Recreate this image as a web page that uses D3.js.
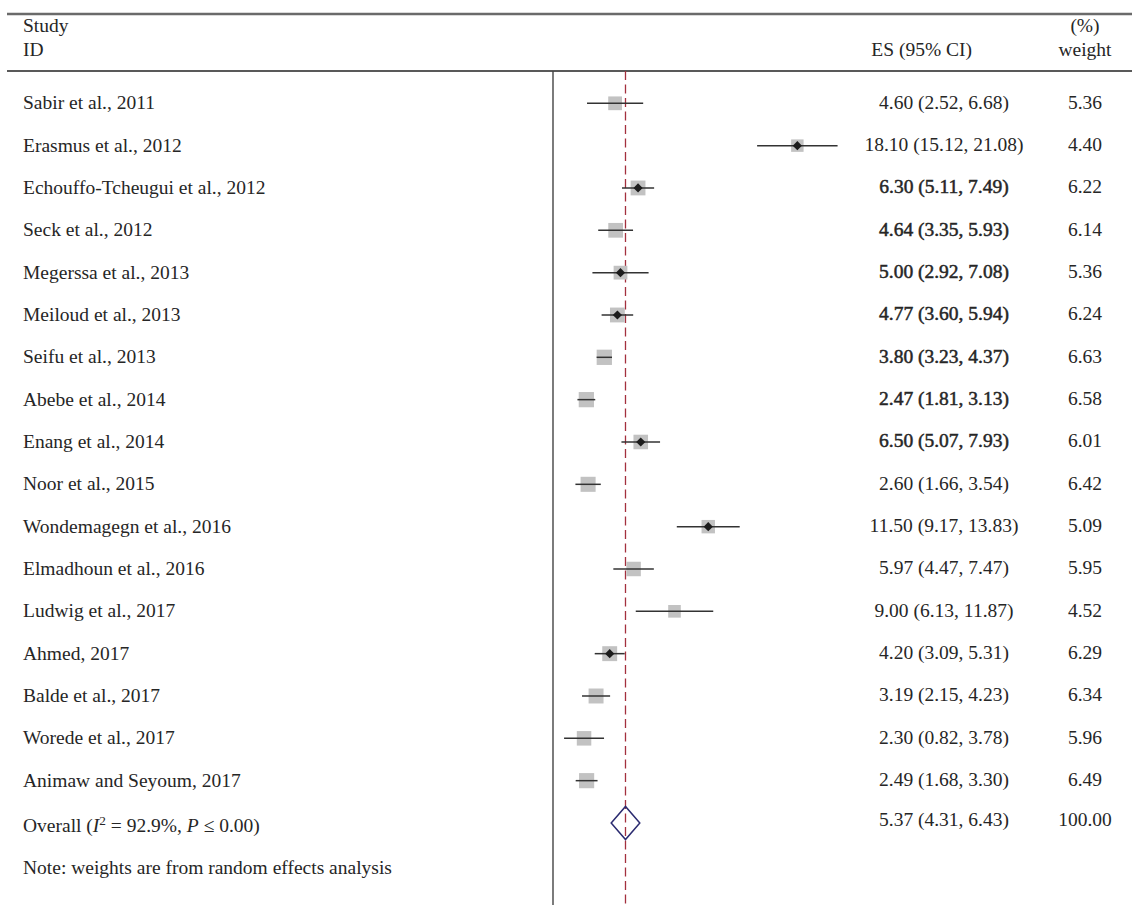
<!DOCTYPE html>
<html>
<head>
<meta charset="utf-8">
<script src="https://cdn.jsdelivr.net/npm/d3@7"></script>
<style>
  html, body { margin: 0; padding: 0; background: #fff; }
  svg text { font-family: "Liberation Serif", "DejaVu Serif", serif; fill: #262626; }
</style>
</head>
<body>
<svg id="chart" width="1132" height="905"></svg>
<script>
// Study-level estimates (prevalence, %) with 95% CI and random-effects weights
const studies = [
  "Sabir et al., 2011", "Erasmus et al., 2012", "Echouffo-Tcheugui et al., 2012",
  "Seck et al., 2012", "Megerssa et al., 2013", "Meiloud et al., 2013",
  "Seifu et al., 2013", "Abebe et al., 2014", "Enang et al., 2014",
  "Noor et al., 2015", "Wondemagegn et al., 2016", "Elmadhoun et al., 2016",
  "Ludwig et al., 2017", "Ahmed, 2017", "Balde et al., 2017",
  "Worede et al., 2017", "Animaw and Seyoum, 2017"
];
const es      = [4.60, 18.10, 6.30, 4.64, 5.00, 4.77, 3.80, 2.47, 6.50, 2.60, 11.50, 5.97, 9.00, 4.20, 3.19, 2.30, 2.49];
const lower   = [2.52, 15.12, 5.11, 3.35, 2.92, 3.60, 3.23, 1.81, 5.07, 1.66,  9.17, 4.47, 6.13, 3.09, 2.15, 0.82, 1.68];
const upper   = [6.68, 21.08, 7.49, 5.93, 7.08, 5.94, 4.37, 3.13, 7.93, 3.54, 13.83, 7.47, 11.87, 5.31, 4.23, 3.78, 3.30];
const weights = [5.36, 4.40, 6.22, 6.14, 5.36, 6.24, 6.63, 6.58, 6.01, 6.42, 5.09, 5.95, 4.52, 6.29, 6.34, 5.96, 6.49];
// rows whose point estimate marker is drawn on top of the box
const showPoint = [0, 1, 1, 0, 1, 1, 0, 0, 1, 0, 1, 0, 0, 1, 0, 0, 0];
// rows whose ES text is set heavier
const heavyText = [0, 0, 1, 1, 1, 1, 1, 1, 1, 0, 0, 0, 0, 0, 0, 0, 0];

// Pooled estimate
const overallES = 5.37, overallLo = 4.31, overallHi = 6.43, overallWeight = 100.00;
const i2 = "92.9%", pText = "0.00";

const fmt = d3.format(".2f");
const svg = d3.select("#chart");

const x = d3.scaleLinear().domain([0, 20]).range([553, 823]);
const nRows = studies.length + 1;
const y = d3.scaleLinear().domain([0, nRows - 1]).range([103.3, 823]);
const boxSide = w => 5.94 * Math.sqrt(w);

const fs = 19.5;
const labelX = 23, esX = 944, wX = 1085;
const plotTop = 71, plotBottom = 905;

// header rules
svg.append("line").attr("x1", 7).attr("x2", 1132).attr("y1", 14).attr("y2", 14)
  .attr("stroke", "#6a6a6a").attr("stroke-width", 2.5);
svg.append("line").attr("x1", 7).attr("x2", 1132).attr("y1", plotTop).attr("y2", plotTop)
  .attr("stroke", "#222").attr("stroke-width", 1.5);

// header text
const head = svg.append("g").style("font-size", fs + "px");
head.append("text").attr("x", labelX).attr("y", 32).text("Study");
head.append("text").attr("x", labelX).attr("y", 56).text("ID");
head.append("text").attr("x", 972).attr("y", 56).attr("text-anchor", "end").text("ES (95% CI)");
head.append("text").attr("x", wX).attr("y", 32).attr("text-anchor", "middle").text("(%)");
head.append("text").attr("x", wX).attr("y", 56).attr("text-anchor", "middle").text("weight");

// null line at zero and pooled-estimate line
svg.append("line").attr("x1", x(0)).attr("x2", x(0)).attr("y1", plotTop).attr("y2", plotBottom)
  .attr("stroke", "#444").attr("stroke-width", 1.4);
svg.append("line").attr("x1", x(overallES)).attr("x2", x(overallES)).attr("y1", plotTop).attr("y2", plotBottom)
  .attr("stroke", "#a3303e").attr("stroke-width", 1.3).attr("stroke-dasharray", "9,4.5");

const rows = studies.map((s, i) => ({
  study: s, es: es[i], lo: lower[i], hi: upper[i], w: weights[i],
  pt: showPoint[i], heavy: heavyText[i], i
}));

const g = svg.selectAll("g.row").data(rows).join("g").attr("class", "row");

// weight boxes
g.append("rect")
  .attr("x", d => x(d.es) - boxSide(d.w) / 2)
  .attr("y", d => y(d.i) - boxSide(d.w) / 2)
  .attr("width", d => boxSide(d.w))
  .attr("height", d => boxSide(d.w))
  .attr("fill", "#c2c2c2");

// confidence intervals
g.append("line")
  .attr("x1", d => x(d.lo)).attr("x2", d => x(d.hi))
  .attr("y1", d => y(d.i)).attr("y2", d => y(d.i))
  .attr("stroke", "#333").attr("stroke-width", 1.5);

// point estimate markers
g.filter(d => d.pt).append("path")
  .attr("d", d => {
    const cx = x(d.es), cy = y(d.i), r = 4.6;
    return `M${cx},${cy - r}L${cx + r},${cy}L${cx},${cy + r}L${cx - r},${cy}Z`;
  })
  .attr("fill", "#1c1c1c");

// study labels
g.append("text")
  .attr("x", labelX).attr("y", d => y(d.i) + 6)
  .style("font-size", fs + "px")
  .text(d => d.study);

// ES (95% CI) text
g.append("text")
  .attr("x", esX).attr("y", d => y(d.i) + 5.5)
  .attr("text-anchor", "middle")
  .style("font-size", fs + "px")
  .style("stroke", d => d.heavy ? "#262626" : "none")
  .style("stroke-width", 0.5)
  .text(d => `${fmt(d.es)} (${fmt(d.lo)}, ${fmt(d.hi)})`);

// weights
g.append("text")
  .attr("x", wX).attr("y", d => y(d.i) + 5.5)
  .attr("text-anchor", "middle")
  .style("font-size", fs + "px")
  .text(d => fmt(d.w));

// pooled estimate
const oy = y(nRows - 1);
svg.append("path")
  .attr("d", `M${x(overallLo)},${oy}L${x(overallES)},${oy - 16.5}L${x(overallHi)},${oy}L${x(overallES)},${oy + 16.5}Z`)
  .attr("fill", "none").attr("stroke", "#2b2b70").attr("stroke-width", 1.5);

const ol = svg.append("text").attr("x", labelX).attr("y", oy + 9).style("font-size", fs + "px");
ol.append("tspan").text("Overall (");
ol.append("tspan").style("font-style", "italic").text("I");
ol.append("tspan").attr("dy", -7).style("font-size", (fs * 0.68) + "px").text("2");
ol.append("tspan").attr("dy", 7).text(` = ${i2}, `);
ol.append("tspan").style("font-style", "italic").text("P");
ol.append("tspan").text(` \u2264 ${pText})`);

svg.append("text").attr("x", esX).attr("y", oy + 3).attr("text-anchor", "middle")
  .style("font-size", fs + "px")
  .text(`${fmt(overallES)} (${fmt(overallLo)}, ${fmt(overallHi)})`);
svg.append("text").attr("x", wX).attr("y", oy + 3).attr("text-anchor", "middle")
  .style("font-size", fs + "px")
  .text(fmt(overallWeight));

svg.append("text").attr("x", labelX).attr("y", oy + 51).style("font-size", fs + "px")
  .text("Note: weights are from random effects analysis");
</script>
</body>
</html>
